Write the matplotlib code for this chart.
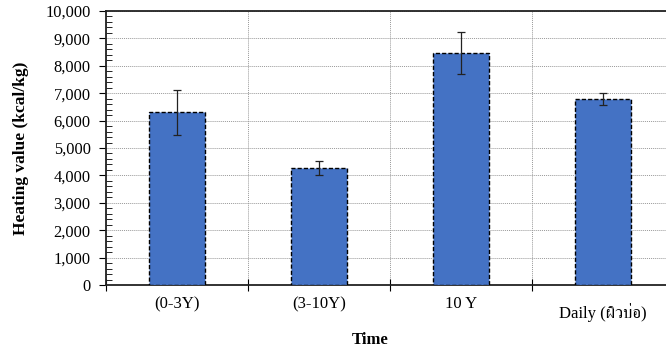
import matplotlib.pyplot as plt
import numpy as np
from matplotlib.ticker import MultipleLocator, FuncFormatter

# data
categories = ['(0-3Y)', '(3-10Y)', '10 Y', 'Daily (ผิวบ่อ)']
heating = [6300, 4270, 8470, 6790]
errors = [820, 270, 780, 230]

plt.rcParams['font.family'] = ['Liberation Serif', 'FreeSerif', 'Noto Serif Thai', 'DejaVu Sans']

fig = plt.figure(figsize=(6.66, 3.51), dpi=100)
# axes right edge runs a bit past the image edge, like the cropped original
ax = fig.add_axes([106/666, 1 - 285/351, (674-106)/666, (285-11)/351])

x = np.arange(len(categories))
ax.bar(x, heating, width=0.4, color='#4472C4', edgecolor='black',
       linestyle=(0, (3, 1.5)), linewidth=1.0, zorder=3)
ax.errorbar(x, heating, yerr=errors, fmt='none', ecolor='#222222',
            elinewidth=0.9, capsize=2.6, capthick=0.9, zorder=4)

ax.set_xlim(-0.5, len(categories) - 0.5)
ax.set_ylim(0, 10000)
ax.yaxis.set_major_locator(MultipleLocator(1000))
ax.yaxis.set_minor_locator(MultipleLocator(200))
ax.yaxis.set_major_formatter(FuncFormatter(lambda v, p: f'{int(v):,}'))

# boundaries between categories carry the x ticks / vertical grid
ax.set_xticks(np.arange(-0.5, len(categories), 1.0))
ax.set_xticklabels([])
ax.set_xticks(x, minor=True)
ax.set_xticklabels(categories, minor=True)
ax.tick_params(axis='x', which='major', direction='inout', length=8, width=0.8)
ax.tick_params(axis='x', which='minor', length=0, labelsize=12, pad=8)
ax.tick_params(axis='y', which='major', direction='out', length=5, width=0.8,
               labelsize=11.8, pad=6)
ax.tick_params(axis='y', which='minor', direction='in', length=4, width=0.6)
# Thai label sits lower in the original
lbls = ax.get_xticklabels(minor=True)
lbls[-1].set_y(-0.025)

ax.grid(True, which='major', axis='both', color='#999999', linestyle=(0, (1, 1)),
        linewidth=0.7, zorder=0)

for s in ['left', 'bottom', 'top', 'right']:
    ax.spines[s].set_linewidth(1.3)
    ax.spines[s].set_color('#222222')

ax.set_ylabel('Heating value (kcal/kg)', fontsize=12.5, fontweight='bold')
ax.yaxis.set_label_coords(-(106 - 21) / 568, 0.5)
ax.yaxis.label.set_va('center')
ax.set_xlabel('Time', fontsize=12, fontweight='bold')
ax.xaxis.set_label_coords((370 - 106) / 568, -(340 - 285) / 274)
ax.xaxis.label.set_va('center')

fig.savefig('out.png', dpi=100)
